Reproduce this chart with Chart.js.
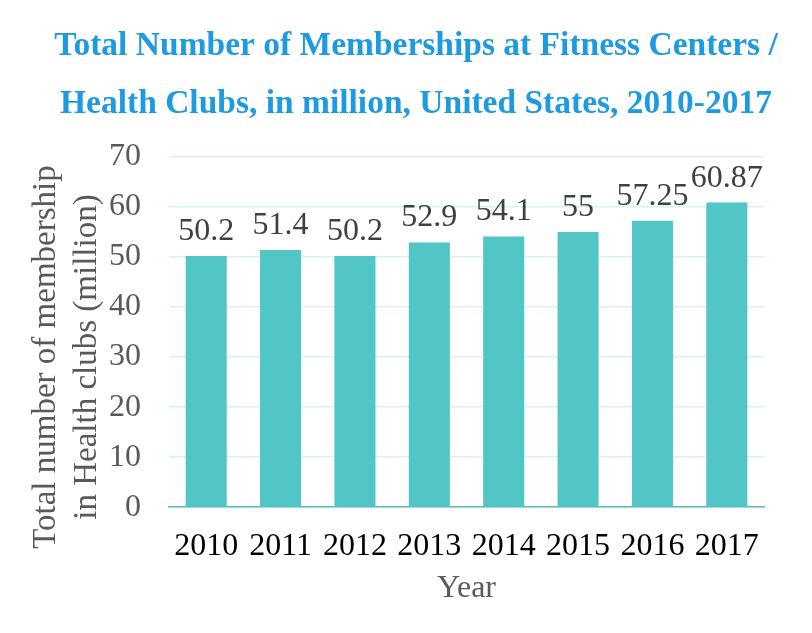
<!DOCTYPE html>
<html><head><meta charset="utf-8">
<script src="https://cdn.jsdelivr.net/npm/chart.js@4/dist/chart.umd.min.js"></script>
<style>html,body{margin:0;padding:0;background:#fff}#wrap{width:812px;height:633px}</style>
</head><body><div id="wrap"><canvas id="c"></canvas></div>
<script>
const years = ["2010","2011","2012","2013","2014","2015","2016","2017"];
const memberships = [50.2, 51.4, 50.2, 52.9, 54.1, 55, 57.25, 60.87];
const valueLabels = ["50.2","51.4","50.2","52.9","54.1","55","57.25","60.87"];
const titleLines = ["Total Number of Memberships at Fitness Centers /","Health Clubs, in million, United States, 2010-2017"];
const yTitleLines = ["Total number of membership","in Health clubs (million)"];

const labelPlugin = {
  id: 'valLabels',
  afterDatasetsDraw(chart) {
    const ctx = chart.ctx;
    const meta = chart.getDatasetMeta(0);
    ctx.save();
    ctx.font = '32px "Liberation Serif"';
    ctx.fillStyle = '#404040';
    ctx.textAlign = 'center';
    ctx.textBaseline = 'alphabetic';
    meta.data.forEach((bar, i) => {
      ctx.fillText(valueLabels[i], bar.x, bar.y - 16);
    });
    ctx.restore();
  }
};

const yTitlePlugin = {
  id: 'yTitle',
  afterDraw(chart) {
    const ctx = chart.ctx;
    const a = chart.chartArea;
    ctx.save();
    ctx.font = '33px "Liberation Serif"';
    ctx.fillStyle = '#595959';
    ctx.textAlign = 'center';
    ctx.textBaseline = 'middle';
    const cy = (a.top + a.bottom) / 2 + 25;
    yTitleLines.forEach((line, i) => {
      ctx.save();
      ctx.translate(a.left - 123 + i * 41, cy);
      ctx.rotate(-Math.PI / 2);
      ctx.fillText(line, 0, 0);
      ctx.restore();
    });
    ctx.restore();
  }
};

new Chart(document.getElementById('c'), {
  type: 'bar',
  data: { labels: years, datasets: [{ data: memberships, backgroundColor: '#52c5c7', barPercentage: 0.552, categoryPercentage: 1.0 }] },
  options: {
    responsive: true, maintainAspectRatio: false, animation: false,
    layout: { padding: { left: 50, right: 30, top: 10, bottom: 25 } },
    plugins: {
      legend: { display: false }, tooltip: { enabled: false },
      title: { display: true, text: titleLines, color: '#1e9be0',
        font: { family: '"Liberation Serif"', size: 33.5, weight: 'bold', lineHeight: 1.73 },
        padding: { top: 7, bottom: 24 } }
    },
    scales: {
      x: {
        grid: { display: false, drawTicks: false },
        border: { color: '#5bbcbc', width: 1.5 },
        ticks: { color: '#000', font: { family: '"Liberation Serif"', size: 32 }, padding: 20, maxRotation: 0, autoSkip: false },
        title: { display: true, text: 'Year', color: '#595959', font: { family: '"Liberation Serif"', size: 32 }, padding: { top: -16, bottom: 0 } }
      },
      y: {
        min: 0, max: 70,
        afterFit(scale) { scale.width = 119; },
        grid: { color: '#d8f1f1', lineWidth: 1.5, drawTicks: false },
        border: { display: false },
        ticks: { stepSize: 10, color: '#595959', font: { family: '"Liberation Serif"', size: 32 }, padding: 28 },
        title: { display: false }
      },
      yRight: {
        position: 'right', min: 0, max: 70,
        afterFit(scale) { scale.width = 18; },
        grid: { display: false, drawTicks: false },
        border: { display: false },
        ticks: { display: false }
      }
    }
  },
  plugins: [labelPlugin, yTitlePlugin]
});
</script></body></html>
